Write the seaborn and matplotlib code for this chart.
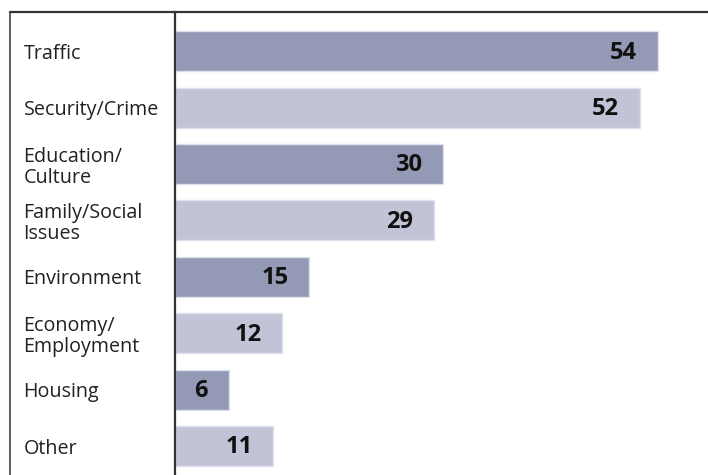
import matplotlib
matplotlib.use("Agg")
import matplotlib.pyplot as plt
from matplotlib.lines import Line2D
import seaborn as sns
import pandas as pd

categories = ["Traffic", "Security/Crime", "Education/\nCulture", "Family/Social\nIssues",
              "Environment", "Economy/\nEmployment", "Housing", "Other"]
values = [54, 52, 30, 29, 15, 12, 6, 11]
dark = "#8f95bb"
light = "#c0c0da"
colors = [dark, light] * 4

sns.set_style("white")
plt.rcParams["font.family"] = ["Open Sans", "DejaVu Sans"]

df = pd.DataFrame({"cat": categories, "val": values})

fig = plt.figure(figsize=(7.08, 4.75), dpi=100)
ax = fig.add_axes([175 / 708, 0, 533 / 708, 463 / 475])
sns.barplot(data=df, x="val", y="cat", hue="cat", palette=colors, legend=False,
            orient="h", width=0.71, ax=ax, edgecolor="#dfe1ee", linewidth=1)

ax.set_xlim(0, 59.6)
ax.set_ylim(7.514, -0.697)
ax.set_xlabel("")
ax.set_ylabel("")
ax.set_xticks([])
ax.tick_params(axis="y", length=0, pad=109)
for lbl in ax.get_yticklabels():
    lbl.set_horizontalalignment("left")
    lbl.set_fontsize(14.2)
    lbl.set_color("#222222")
    lbl.set_linespacing(1.08)

for sp in ["right", "bottom", "top"]:
    ax.spines[sp].set_visible(False)
ax.spines["left"].set_color("#333333")
ax.spines["left"].set_linewidth(1.6)

for i, v in enumerate(values):
    ax.annotate(str(v), xy=(v, i), xytext=(-15, -1), textcoords="offset points",
                ha="right", va="center", fontsize=17, fontweight="bold", color="#111111")

# frame lines
fig.add_artist(Line2D([10 / 708, 1.0], [1 - 12 / 475, 1 - 12 / 475],
                      transform=fig.transFigure, color="#333333", linewidth=1.6))
fig.add_artist(Line2D([10 / 708, 10 / 708], [0, 1 - 12 / 475],
                      transform=fig.transFigure, color="#333333", linewidth=1.1))

fig.savefig("out.png", dpi=100)
